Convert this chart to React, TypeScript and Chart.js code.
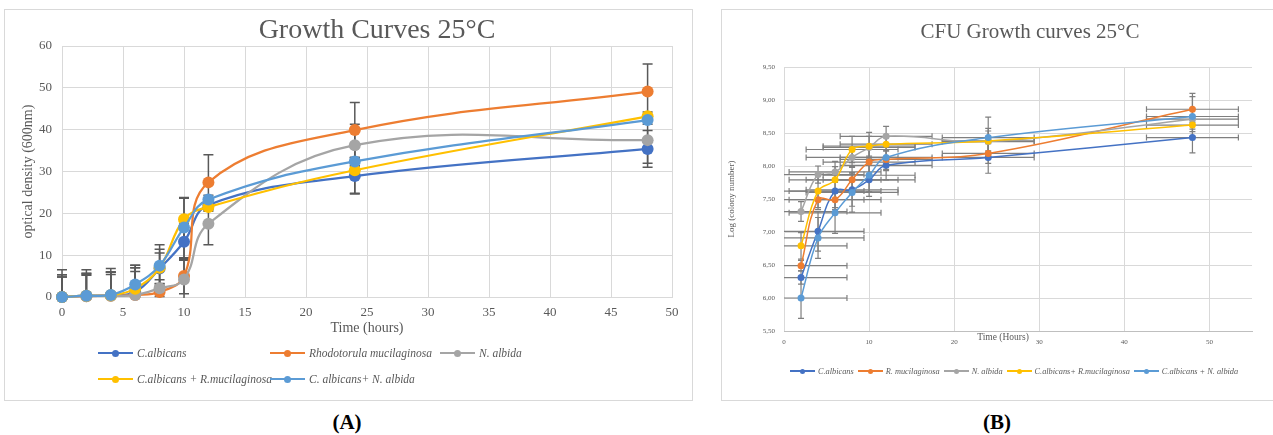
import React, { useEffect, useRef } from "react";
import { Chart, registerables } from "chart.js";

Chart.register(...registerables);

const SERIF = '"Liberation Serif", "Times New Roman", serif';
const GREY_TEXT = "#595959";

// ---------- shared series info ----------
const seriesColors = ["#4472C4", "#ED7D31", "#A5A5A5", "#FFC000", "#5B9BD5"];
const namesA = [
  "C.albicans",
  "Rhodotorula mucilaginosa",
  "N. albida",
  "C.albicans + R.mucilaginosa",
  "C. albicans+ N. albida",
];
const namesB = [
  "C.albicans",
  "R. mucilaginosa",
  "N. albida",
  "C.albicans+ R.mucilaginosa",
  "C.albicans + N. albida",
];

// ---------- Panel A: optical density ----------
const hoursA = [0, 2, 4, 6, 8, 10, 12, 24, 48];
const calbA = [0, 0.3, 0.4, 1.2, 6.8, 13.2, 22.0, 28.9, 35.4];
const rhodA = [0, 0.2, 0.3, 0.5, 1.2, 5.0, 27.4, 39.9, 49.1];
const nalbA = [0, 0.2, 0.3, 0.5, 2.1, 4.2, 17.5, 36.3, 37.5];
const calbRmA = [0, 0.3, 0.4, 2.0, 7.0, 18.6, 21.5, 30.3, 43.2];
const calbNaA = [0, 0.3, 0.5, 3.0, 7.5, 16.6, 23.3, 32.4, 42.3];

const calbErrA = [6.5, 6.2, 6.4, 6.4, 3.7, 4.3, 1.0, 4.3, 4.4];
const rhodErrA = [5.3, 5.4, 5.6, 6.5, 2.0, 4.2, 6.6, 6.6, 6.6];
const nalbErrA = [4.8, 5.0, 5.1, 5.6, 2.0, 4.6, 5.0, 5.0, 5.5];
const calbRmErrA = [5.3, 5.4, 5.6, 5.0, 4.4, 5.0, 1.0, 5.5, 1.0];
const calbNaErrA = [4.8, 5.0, 5.5, 4.6, 5.0, 7.2, 1.0, 1.0, 1.0];

// ---------- Panel B: log CFU ----------
const hoursB = [2, 4, 6, 8, 10, 12, 24, 48];
const calbB = [6.31, 7.01, 7.62, 7.64, 7.79, 8.01, 8.13, 8.43];
const rhodB = [6.49, 7.49, 7.49, 7.79, 8.06, 8.1, 8.19, 8.86];
const nalbB = [7.31, 7.87, 7.91, 8.13, 8.28, 8.45, 8.37, 8.71];
const calbRmB = [6.79, 7.62, 7.79, 8.25, 8.3, 8.33, 8.38, 8.62];
const calbNaB = [6.0, 6.91, 7.29, 7.6, 7.86, 8.13, 8.43, 8.75];

const calbErrB = [0.1, 0.3, 0.25, 0.25, 0.25, 0.22, 0.24, 0.23];
const rhodErrB = [0.08, 0.15, 0.15, 0.2, 0.2, 0.15, 0.15, 0.24];
const nalbErrB = [0.15, 0.13, 0.16, 0.15, 0.23, 0.15, 0.2, 0.15];
const calbRmErrB = [0.2, 0.25, 0.2, 0.2, 0.15, 0.1, 0.15, 0.1];
const calbNaErrB = [0.31, 0.31, 0.31, 0.3, 0.25, 0.2, 0.31, 0.3];
const timeErrB = [5.4, 5.4, 5.4, 5.4, 5.4, 5.4, 5.4, 5.4];

const yTicksA = [0, 10, 20, 30, 40, 50, 60];
const yTicksB = [5.5, 6, 6.5, 7, 7.5, 8, 8.5, 9, 9.5];

// ---------- error bar plugin ----------
const errorBarPlugin = {
  id: "errorBars",
  beforeDatasetsDraw(chart: any, _args: any, opts: any) {
    const { ctx, chartArea, scales } = chart;
    const xs = scales.x;
    const ys = scales.y;
    const ox = opts.overflowX || 0;
    ctx.save();
    ctx.beginPath();
    ctx.rect(
      chartArea.left - ox,
      chartArea.top - 1,
      chartArea.right - chartArea.left + 2 * ox,
      chartArea.bottom - chartArea.top + 2
    );
    ctx.clip();
    ctx.strokeStyle = opts.color;
    ctx.lineWidth = opts.width;
    const cap = opts.cap;
    chart.data.datasets.forEach((ds: any) => {
      (ds.data as { x: number; y: number }[]).forEach((p, i) => {
        const px = xs.getPixelForValue(p.x);
        const py = ys.getPixelForValue(p.y);
        const ye = ds.yErr ? ds.yErr[i] : 0;
        if (ye) {
          const y1 = ys.getPixelForValue(p.y + ye);
          const y2 = ys.getPixelForValue(p.y - ye);
          ctx.beginPath();
          ctx.moveTo(px, y1);
          ctx.lineTo(px, y2);
          ctx.moveTo(px - cap, y1);
          ctx.lineTo(px + cap, y1);
          ctx.moveTo(px - cap, y2);
          ctx.lineTo(px + cap, y2);
          ctx.stroke();
        }
        const xe = ds.xErr ? ds.xErr[i] : 0;
        if (xe) {
          const x1 = xs.getPixelForValue(p.x - xe);
          const x2 = xs.getPixelForValue(p.x + xe);
          ctx.beginPath();
          ctx.moveTo(x1, py);
          ctx.lineTo(x2, py);
          ctx.moveTo(x1, py - cap);
          ctx.lineTo(x1, py + cap);
          ctx.moveTo(x2, py - cap);
          ctx.lineTo(x2, py + cap);
          ctx.stroke();
        }
      });
    });
    ctx.restore();
  },
};

// chart titles / axis titles placed relative to the plot area, as in the original
const textPlugin = {
  id: "texts",
  afterDraw(chart: any, _args: any, opts: any) {
    if (!opts || !opts.items) return;
    const { ctx, chartArea } = chart;
    ctx.save();
    ctx.fillStyle = GREY_TEXT;
    ctx.textAlign = "center";
    ctx.textBaseline = "middle";
    opts.items.forEach((it: any) => {
      ctx.font = `${it.size}px ${SERIF}`;
      ctx.fillText(it.text, (chartArea.left + chartArea.right) / 2 + it.dx, it.y);
    });
    ctx.restore();
  },
};

function LegendItem(props: {
  name: string;
  color: string;
  lineW: number;
  dotR: number;
  stroke: number;
  fontSize: number;
  gap: number;
}) {
  const { name, color, lineW, dotR, stroke, fontSize, gap } = props;
  return (
    <div style={{ display: "flex", alignItems: "center", whiteSpace: "nowrap" }}>
      <span
        style={{
          position: "relative",
          display: "inline-block",
          width: lineW,
          height: dotR * 2,
          marginRight: gap,
        }}
      >
        <span
          style={{
            position: "absolute",
            left: 0,
            width: lineW,
            top: dotR - stroke / 2,
            height: stroke,
            background: color,
          }}
        />
        <span
          style={{
            position: "absolute",
            left: lineW / 2 - dotR,
            top: 0,
            width: dotR * 2,
            height: dotR * 2,
            borderRadius: "50%",
            background: color,
          }}
        />
      </span>
      <span style={{ fontStyle: "italic", fontSize, color: GREY_TEXT, fontFamily: SERIF }}>
        {name}
      </span>
    </div>
  );
}

export default function App() {
  const refA = useRef<HTMLCanvasElement>(null);
  const refB = useRef<HTMLCanvasElement>(null);

  useEffect(() => {
    const seriesA = [calbA, rhodA, nalbA, calbRmA, calbNaA];
    const errA = [calbErrA, rhodErrA, nalbErrA, calbRmErrA, calbNaErrA];
    const seriesB = [calbB, rhodB, nalbB, calbRmB, calbNaB];
    const errB = [calbErrB, rhodErrB, nalbErrB, calbRmErrB, calbNaErrB];

    const chartA = new Chart(refA.current as HTMLCanvasElement, {
      type: "line",
      data: {
        datasets: seriesA.map((s, i) => ({
          label: namesA[i],
          data: hoursA.map((h, j) => ({ x: h, y: s[j] })),
          yErr: errA[i],
          borderColor: seriesColors[i],
          backgroundColor: seriesColors[i],
          pointBackgroundColor: seriesColors[i],
          pointBorderColor: seriesColors[i],
          borderWidth: 2.25,
          pointRadius: 6,
          pointBorderWidth: 0,
          tension: 0.4,
          clip: false,
          order: 5 - i,
        })) as any,
      },
      options: {
        responsive: false,
        animation: false,
        events: [],
        layout: { padding: { left: 0, right: 20, top: 36, bottom: 54 } },
        plugins: {
          legend: { display: false },
          tooltip: { enabled: false },
          title: { display: false },
          errorBars: { color: "#595959", width: 1.5, cap: 5, overflowX: 10 },
          texts: { items: [{ text: "Growth Curves 25°C", size: 28, dx: 10, y: 20.5 }] },
        } as any,
        scales: {
          x: {
            type: "linear",
            min: 0,
            max: 50,
            ticks: {
              stepSize: 5,
              color: GREY_TEXT,
              font: { family: SERIF, size: 13 },
              padding: 8,
              maxRotation: 0,
              autoSkip: false,
            },
            grid: { color: "#d9d9d9", drawTicks: false },
            border: { color: "#d9d9d9" },
            title: {
              display: true,
              text: "Time (hours)",
              color: GREY_TEXT,
              font: { family: SERIF, size: 14 },
              padding: { top: 0, bottom: 8.6 },
            },
            afterFit: (s: any) => {
              s.height = 48;
            },
          },
          y: {
            type: "linear",
            min: 0,
            max: 60,
            afterBuildTicks: (s: any) => {
              s.ticks = yTicksA.map((v) => ({ value: v }));
            },
            ticks: {
              color: GREY_TEXT,
              font: { family: SERIF, size: 13 },
              padding: 10,
            },
            grid: { color: "#d9d9d9", drawTicks: false },
            border: { display: false },
            title: {
              display: true,
              text: "optical density (600nm)",
              color: GREY_TEXT,
              font: { family: SERIF, size: 14 },
              padding: { top: 14.6, bottom: 0 },
            },
            afterFit: (s: any) => {
              s.width = 57;
            },
          },
        },
      } as any,
      plugins: [errorBarPlugin, textPlugin],
    });

    const chartB = new Chart(refB.current as HTMLCanvasElement, {
      type: "line",
      data: {
        datasets: seriesB.map((s, i) => ({
          label: namesB[i],
          data: hoursB.map((h, j) => ({ x: h, y: s[j] })),
          yErr: errB[i],
          xErr: timeErrB,
          borderColor: seriesColors[i],
          backgroundColor: seriesColors[i],
          pointBackgroundColor: seriesColors[i],
          pointBorderColor: seriesColors[i],
          borderWidth: 1.5,
          pointRadius: 3.5,
          pointBorderWidth: 0,
          tension: 0.4,
          clip: false,
          order: 5 - i,
        })) as any,
      },
      options: {
        responsive: false,
        animation: false,
        events: [],
        layout: { padding: { left: 0, right: 21, top: 57, bottom: 38 } },
        plugins: {
          legend: { display: false },
          tooltip: { enabled: false },
          title: { display: false },
          errorBars: { color: "#7f7f7f", width: 1.2, cap: 3, overflowX: 0 },
          texts: {
            items: [
              { text: "CFU Growth curves 25°C", size: 21, dx: 12, y: 22 },
              { text: "Time (Hours)", size: 9.5, dx: -15, y: 327 },
            ],
          },
        } as any,
        scales: {
          x: {
            type: "linear",
            min: 0,
            max: 55,
            afterBuildTicks: (s: any) => {
              s.ticks = s.ticks.filter((t: any) => t.value % 10 === 0);
            },
            ticks: {
              stepSize: 10,
              color: GREY_TEXT,
              font: { family: SERIF, size: 7 },
              padding: 7,
              maxRotation: 0,
              autoSkip: false,
            },
            grid: { color: "#d9d9d9", drawTicks: false },
            border: { color: "#bfbfbf" },
            afterFit: (s: any) => {
              s.height = 30;
            },
          },
          y: {
            type: "linear",
            min: 5.5,
            max: 9.5,
            afterBuildTicks: (s: any) => {
              s.ticks = yTicksB.map((v) => ({ value: v }));
            },
            ticks: {
              color: GREY_TEXT,
              font: { family: SERIF, size: 7 },
              padding: 9,
              callback: (v: any) => Number(v).toFixed(2).replace(".", ","),
            },
            grid: { color: "#d9d9d9", drawTicks: false },
            border: { display: false },
            title: {
              display: true,
              text: "Log (colony number)",
              color: GREY_TEXT,
              font: { family: SERIF, size: 9 },
              padding: { top: 4.6, bottom: 0 },
            },
            afterFit: (s: any) => {
              s.width = 62;
            },
          },
        },
      } as any,
      plugins: [errorBarPlugin, textPlugin],
    });

    return () => {
      chartA.destroy();
      chartB.destroy();
    };
  }, []);

  return (
    <div
      style={{
        position: "absolute",
        left: 0,
        top: 0,
        width: 1273,
        height: 435,
        overflow: "hidden",
        background: "#ffffff",
        fontFamily: SERIF,
      }}
    >
      {/* Panel A frame */}
      <div
        style={{
          position: "absolute",
          left: 4,
          top: 9,
          width: 689,
          height: 392,
          boxSizing: "border-box",
          border: "1px solid #d9d9d9",
        }}
      />
      <canvas
        ref={refA}
        width={687}
        height={389}
        style={{ position: "absolute", left: 5, top: 10, width: 687, height: 389 }}
      />
      <div
        style={{
          position: "absolute",
          left: 98,
          top: 345,
          display: "grid",
          gridTemplateColumns: "172px 170px 172px",
          rowGap: 10,
        }}
      >
        {namesA.map((n, i) => (
          <div key={n} style={{ height: 16, display: "flex", alignItems: "center" }}>
            <LegendItem
              name={n}
              color={seriesColors[i]}
              lineW={35}
              dotR={3.5}
              stroke={2.25}
              fontSize={11.5}
              gap={4}
            />
          </div>
        ))}
      </div>

      {/* Panel B frame */}
      <div
        style={{
          position: "absolute",
          left: 721,
          top: 9,
          width: 570,
          height: 392,
          boxSizing: "border-box",
          border: "1px solid #d9d9d9",
        }}
      />
      <canvas
        ref={refB}
        width={551}
        height={389}
        style={{ position: "absolute", left: 722, top: 10, width: 551, height: 389 }}
      />
      <div
        style={{
          position: "absolute",
          left: 790,
          top: 365,
          height: 12,
          display: "flex",
          alignItems: "center",
          gap: 4,
        }}
      >
        {namesB.map((n, i) => (
          <LegendItem
            key={n}
            name={n}
            color={seriesColors[i]}
            lineW={25}
            dotR={2.5}
            stroke={1.5}
            fontSize={8.3}
            gap={3}
          />
        ))}
      </div>

      <div
        style={{
          position: "absolute",
          left: 297,
          width: 100,
          top: 408,
          textAlign: "center",
          fontWeight: "bold",
          fontSize: 21,
          lineHeight: "28px",
          color: "#000",
        }}
      >
        (A)
      </div>
      <div
        style={{
          position: "absolute",
          left: 947,
          width: 100,
          top: 408,
          textAlign: "center",
          fontWeight: "bold",
          fontSize: 21,
          lineHeight: "28px",
          color: "#000",
        }}
      >
        (B)
      </div>
    </div>
  );
}
